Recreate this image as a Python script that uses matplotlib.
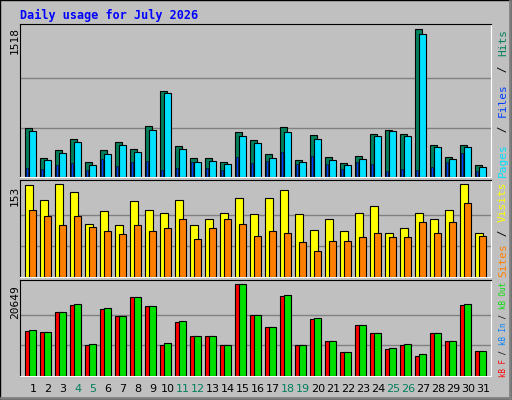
import matplotlib
matplotlib.use("Agg")
import matplotlib.pyplot as plt
from matplotlib.patches import Rectangle

days = list(range(1, 32))
day_labels = [str(d) for d in days]
weekend = [4, 5, 11, 12, 18, 19, 25, 26]
hits = [499,195,276,388,155,276,357,287,519,883,317,195,195,155,458,377,236,509,175,428,206,145,216,438,479,438,1518,327,206,327,125]
files = [468,175,246,357,125,236,327,256,479,863,287,155,165,135,418,347,195,458,155,388,175,125,185,418,468,418,1470,307,185,307,104]
pages = [94,84,125,145,74,185,115,155,165,74,94,155,94,74,206,145,165,256,135,216,135,84,155,135,64,84,74,104,155,246,64]
visits = [151,126,153,140,88,108,86,125,111,105,126,86,96,105,130,103,130,143,103,78,96,76,105,116,73,81,105,95,110,153,73]
sites = [110,101,85,100,83,76,71,86,76,81,96,63,81,95,88,68,75,73,58,42,60,60,66,73,65,66,91,73,91,121,68]
kbout = [10435,9980,14290,16100,7260,15200,13380,17690,15650,7480,12250,9070,9070,7030,20649,13610,10890,18140,7030,12930,7940,5440,11340,9750,6350,7260,4990,9750,7940,16100,5670]
kbf = [10210,9980,14290,15880,7030,14980,13380,17690,15650,7030,12030,9070,9070,7030,20649,13610,10890,17920,7030,12700,7940,5440,11340,9750,6130,7030,4530,9750,7940,15880,5670]
hits_max, visits_max, kb_max = 1518, 153, 20649

W, H = 512, 400
fig = plt.figure(figsize=(W/100, H/100), dpi=100)
fig.patch.set_facecolor('#c0c0c0')
bg = fig.add_axes([0, 0, 1, 1]); bg.set_xlim(0, W); bg.set_ylim(H, 0); bg.axis('off')
bg.add_patch(Rectangle((0, 0), W-1, H-1, fill=False, ec='black', lw=1))
bg.plot([1, W-2], [H-2, H-2], color='#808080', lw=2)
bg.plot([W-2, W-2], [1, H-2], color='#808080', lw=2)
mono = 'DejaVu Sans Mono'
bg.text(20, 15, "Daily usage for July 2026", color='#0000ff', fontsize=8.5, fontweight='bold', family=mono, va='center')

def panel(y0, y1):
    ax = fig.add_axes([20/W, 1-y1/H, 471/W, (y1-y0)/H])
    ax.set_facecolor('#c0c0c0')
    ax.set_xlim(0.6667, 0.6667+471/15)
    for s in ['top', 'left']:
        ax.spines[s].set_color('black')
    for s in ['bottom', 'right']:
        ax.spines[s].set_color('white')
    ax.set_xticks([]); ax.set_yticks([])
    return ax

def setup_y(ax, vmax, y0, y1, top):
    scale = vmax/(y1-top)
    ax.set_ylim(0, (y1-y0)*scale)
    for f in (1/3, 2/3):
        ax.axhline(vmax*f, color='#808080', lw=1, zorder=0)

x = days
ax1 = panel(24, 177)
setup_y(ax1, hits_max, 24, 177, 29)
ax1.bar(x, hits, width=7/15, align='edge', color='#00805c', ec='black', lw=0.8, zorder=2)
ax1.bar([i+4/15 for i in x], files, width=7/15, align='edge', color='#00e0ff', ec='black', lw=0.8, zorder=3)
ax1.bar([i+1.5/15 for i in x], pages, width=2/15, align='edge', color='#0040ff', ec='black', lw=0.4, zorder=4)

ax2 = panel(180, 277)
setup_y(ax2, visits_max, 180, 277, 184)
ax2.bar(x, visits, width=8/15, align='edge', color='#ffff00', ec='black', lw=0.8, zorder=2)
ax2.bar([i+4/15 for i in x], sites, width=7.5/15, align='edge', color='#ff8000', ec='black', lw=0.8, zorder=3)

ax3 = panel(280, 376)
setup_y(ax3, kb_max, 280, 376, 284)
ax3.bar(x, kbf, width=7/15, align='edge', color='#ff0000', ec='black', lw=0.8, zorder=2)
ax3.bar([i+4/15 for i in x], kbout, width=7.5/15, align='edge', color='#00e000', ec='black', lw=0.8, zorder=3)

bg.text(15, 40, str(hits_max), rotation=90, fontsize=8, family=mono, ha='center', va='center')
bg.text(15, 196, str(visits_max), rotation=90, fontsize=8, family=mono, ha='center', va='center')
bg.text(15, 302, str(kb_max), rotation=90, fontsize=8, family=mono, ha='center', va='center')

def rlabel(parts, ybot, ytop):
    n = sum(len(t) for t, c in parts)
    step = (ybot - ytop) / n
    fs = min(8, step / 0.6 * 0.72)
    y = ybot
    for t, c in parts:
        bg.text(503, y, t, rotation=90, fontsize=fs, family=mono, color=c, ha='center', va='bottom')
        y -= len(t)*step
rlabel([("Pages", '#00e0ff'), (" / ", '#000000'), ("Files", '#0040ff'), (" / ", '#000000'), ("Hits", '#00805c')], 177, 26)
rlabel([("Sites", '#ff8000'), (" / ", '#000000'), ("Visits", '#ffff00')], 277, 181)
rlabel([("kB F", '#ff0000'), (" / ", '#000000'), ("kB In", '#0080ff'), (" / ", '#000000'), ("kB Out", '#00e000')], 377, 282)

for d, lab in zip(days, day_labels):
    px = 20 + (d + 0.53 - 0.6667)*15
    bg.text(px, 389, lab, fontsize=8, family='DejaVu Sans', ha='center', va='center',
            color='#00805c' if d in weekend else 'black')

fig.savefig('out.png', dpi=100, facecolor=fig.get_facecolor())
